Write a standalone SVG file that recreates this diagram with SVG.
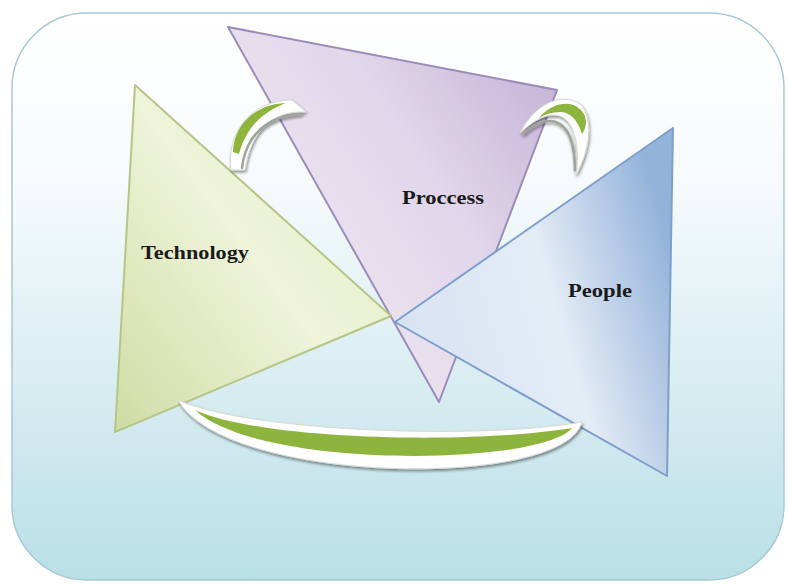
<svg xmlns="http://www.w3.org/2000/svg" width="788" height="585" viewBox="0 0 788 585">
<defs>
<linearGradient id="bg" x1="0" y1="0" x2="0" y2="1">
<stop offset="0" stop-color="#ffffff"/>
<stop offset="0.3" stop-color="#f6fafc"/>
<stop offset="0.6" stop-color="#ddeff3"/>
<stop offset="1" stop-color="#b9dfe7"/>
</linearGradient>
<linearGradient id="gGreen" gradientUnits="userSpaceOnUse" x1="115" y1="430" x2="380" y2="230">
<stop offset="0" stop-color="#cfdca4"/>
<stop offset="0.65" stop-color="#eff4da"/>
<stop offset="1" stop-color="#e7efcc"/>
</linearGradient>
<linearGradient id="gPurple" gradientUnits="userSpaceOnUse" x1="300" y1="260" x2="560" y2="90">
<stop offset="0" stop-color="#ece4f0"/>
<stop offset="0.5" stop-color="#e1d6ea"/>
<stop offset="1" stop-color="#c6b5d8"/>
</linearGradient>
<linearGradient id="gBlue" gradientUnits="userSpaceOnUse" x1="400" y1="330" x2="672" y2="250">
<stop offset="0" stop-color="#d8e3f2"/>
<stop offset="0.55" stop-color="#e4ecf6"/>
<stop offset="1" stop-color="#94b3da"/>
</linearGradient>
<filter id="sh" x="-10%" y="-10%" width="130%" height="140%">
<feGaussianBlur in="SourceAlpha" stdDeviation="1.5"/>
<feOffset dx="1" dy="2" result="b"/>
<feComponentTransfer><feFuncA type="linear" slope="0.45"/></feComponentTransfer>
<feMerge><feMergeNode/><feMergeNode in="SourceGraphic"/></feMerge>
</filter>
<style>
.lbl{font-family:"Liberation Serif","Times New Roman",serif;font-weight:bold;font-size:19px;fill:#1a1a1a}
.arw{fill:#ffffff;stroke:#d6dbd2;stroke-width:1}
.grn{fill:#8db43e}
.inner{fill:none;stroke:#9ea39b;stroke-width:2.5;stroke-linecap:round}
</style>
</defs>

<rect x="12" y="13" width="772" height="567" rx="75" ry="75" fill="url(#bg)" stroke="#a8c8d3" stroke-width="1.5"/>

<g id="node-process">
<polygon points="228,27 557,90 439,402" fill="url(#gPurple)" stroke="#9c8cb8" stroke-width="2" stroke-linejoin="round"/>
<text class="lbl" x="402" y="204" textLength="82" lengthAdjust="spacingAndGlyphs">Proccess</text>
</g>

<g id="node-technology">
<polygon points="135,85 391,316 115,432" fill="url(#gGreen)" stroke="#b5c686" stroke-width="2" stroke-linejoin="round"/>
<text class="lbl" x="141" y="259" textLength="108" lengthAdjust="spacingAndGlyphs">Technology</text>
</g>

<g id="node-people">
<polygon points="673,128 395,322 667,476" fill="url(#gBlue)" stroke="#7f9ecb" stroke-width="2" stroke-linejoin="round"/>
<text class="lbl" x="568" y="297" textLength="64" lengthAdjust="spacingAndGlyphs">People</text>
</g>

<g id="connectors">
<g id="arrow-tech-process" filter="url(#sh)">
<path class="arw" d="M231,170 C226,132 252,100 292,100 L306,112 C270,110 250,134 245,170 Z"/>
<path class="grn" d="M233,152 C234,124 256,104 286,103 C262,112 246,128 239,154 Z"/>
<path class="inner" d="M242,168 C246,136 266,116 301,114"/>
</g>
<g id="arrow-process-people" filter="url(#sh)">
<path class="arw" d="M520,133 C535,103 562,92 580,104 C594,118 590,150 576,175 C580,150 576,122 560,116 C546,112 532,122 520,133 Z"/>
<path class="grn" d="M539,118 C552,102 574,98 584,114 C588,122 585,130 582,134 C578,120 570,112 560,112 C552,112 545,114 539,118 Z"/>
<path class="inner" d="M523,134 C542,116 574,108 575,170"/>
</g>
<g id="arrow-people-tech" filter="url(#sh)">
<path class="arw" d="M178,400 C250,432 480,440 582,422 C565,490 225,485 178,400 Z"/>
<path class="grn" d="M195,410 C260,440 470,445 572,428 C540,466 260,470 195,410 Z"/>
</g>
</g>
</svg>
